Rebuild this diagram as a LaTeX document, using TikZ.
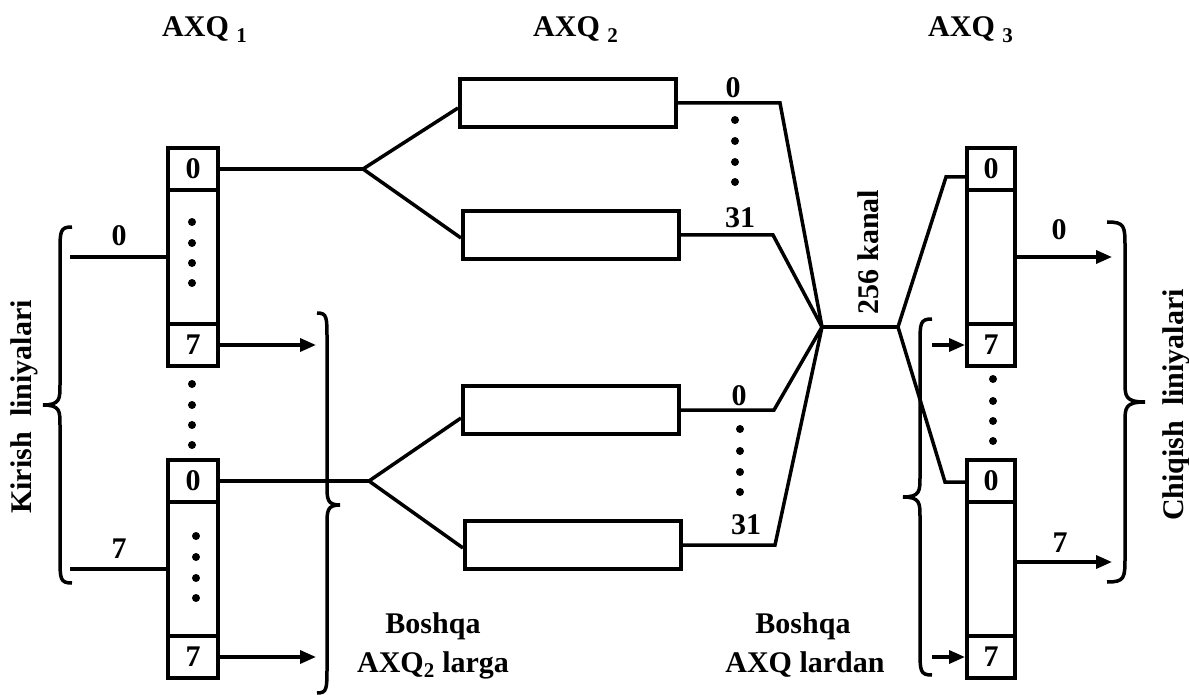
\documentclass[tikz,border=0pt]{standalone}
\usepackage{fontspec}
\setmainfont{Liberation Serif}
\usetikzlibrary{arrows.meta,calc}
\newcommand{\VBrace}[6]{% xend, xvert, xtip, ytop, ymid, ybot
  \draw[bracestyle] (#1,#4) .. controls (#2,#4) and (#2,#4+4) .. (#2,#4+26) -- (#2,#5-20) .. controls (#2,#5-6) and (#2,#5) .. (#3,#5) .. controls (#2,#5) and (#2,#5+6) .. (#2,#5+20) -- (#2,#6-26) .. controls (#2,#6-4) and (#2,#6) .. (#1,#6);}
\begin{document}
\begin{tikzpicture}[x=1pt,y=-1pt,
  every node/.style={font=\fontsize{30}{36}\selectfont\bfseries, inner sep=0pt},
  cell/.style={draw, line width=4pt, minimum width=50pt, minimum height=42pt},
  midcell/.style={draw, line width=4pt, minimum width=50pt, minimum height=134pt},
  rcell/.style={cell, minimum width=48pt},
  rmidcell/.style={midcell, minimum width=48pt},
  mbox/.style={draw, line width=4pt, minimum width=216pt, minimum height=48pt},
  wire/.style={line width=3.5pt},
  arr/.style={line width=3.5pt, -{Triangle[length=16pt,width=13pt]}},
  dotn/.style={circle, fill=black, inner sep=0pt, minimum size=8pt},
  bracestyle/.style={line width=3.5pt},
  txt/.style={font=\fontsize{30}{36}\selectfont\bfseries}
]
\useasboundingbox (0,0) rectangle (1189,695);

% titles
\node[txt, anchor=base west] (t1) at (162,37) {AXQ \textsubscript{1}};
\node[txt, anchor=base west] (t2) at (533,37) {AXQ \textsubscript{2}};
\node[txt, anchor=base west] (t3) at (928,37) {AXQ \textsubscript{3}};

% left column (AXQ1)
\node[cell] (l1c0) at (193,169) {0};
\node[midcell] (l1m) at (193,257) {};
\node[cell] (l1c7) at (193,345) {7};
\node[cell] (l2c0) at (193,481) {0};
\node[midcell] (l2m) at (193,569) {};
\node[cell] (l2c7) at (193,657) {7};
\foreach \y [count=\i] in {222,243,263,283} \node[dotn] (ld1\i) at (192,\y) {};
\foreach \y [count=\i] in {536,557,578,598} \node[dotn] (ld2\i) at (196,\y) {};
\foreach \y [count=\i] in {384,405,425,445} \node[dotn] (ldb\i) at (192,\y) {};

% inputs
\coordinate (in0) at (70,257);
\coordinate (in7) at (70,569);
\draw[wire] (in0) -- (l1m.west);
\draw[wire] (in7) -- (l2m.west);
\node (lin0) at (119,236) {0};
\node (lin7) at (119,549) {7};
\VBrace{72}{60}{43}{227}{405}{583}
\node[rotate=90] (kirish) at (24,407) {Kirish\ \ liniyalari};

% outputs to other AXQ2
\coordinate (ao1) at (316,345);
\coordinate (ao2) at (316,657);
\draw[arr] (l1c7.east) -- (ao1);
\draw[arr] (l2c7.east) -- (ao2);
\VBrace{317}{327}{340}{313}{505}{693}
\node[anchor=base] (bq1) at (433,633) {Boshqa};
\node[anchor=base] (bq2) at (433,672) {AXQ\textsubscript{2} larga};

% middle (AXQ2)
\node[mbox] (M1) at (568,103) {};
\node[mbox] (M2) at (571,235) {};
\node[mbox] (M3) at (571,410) {};
\node[mbox] (M4) at (573,545) {};
\coordinate (b1) at (363,169);
\coordinate (b2) at (369,481);
\draw[wire] (l1c0.east) -- (b1);
\draw[wire] (b1) -- ($(M1.west)+(0,5)$);
\draw[wire] (b1) -- ($(M2.west)+(0,3)$);
\draw[wire] (l2c0.east) -- (b2);
\draw[wire] (b2) -- ($(M3.west)+(0,8)$);
\draw[wire] (b2) -- ($(M4.west)+(0,3)$);

\coordinate (conv) at (822,327);
\coordinate (e1) at (780,103);
\coordinate (e2) at (773,235);
\coordinate (e3) at (774,410);
\coordinate (e4) at (775,545);
\draw[wire] (M1.east) -- (e1) -- (conv);
\draw[wire] (M2.east) -- (e2) -- (conv);
\draw[wire] (M3.east) -- (e3) -- (conv);
\draw[wire] (M4.east) -- (e4) -- (conv);
\node (n0a) at (733,88) {0};
\node (n31a) at (740,218) {31};
\node (n0b) at (739,396) {0};
\node (n31b) at (746,525) {31};
\foreach \y [count=\i] in {120,141,162,182} \node[dotn] (md1\i) at (735,\y) {};
\foreach \y [count=\i] in {429,451,472,492} \node[dotn] (md2\i) at (740,\y) {};

\coordinate (k) at (898,327);
\draw[wire] (conv) -- (k);
\node[rotate=90] (kanal) at (868,252) {256 kanal};

% right column (AXQ3)
\node[rcell] (r1c0) at (991,169) {0};
\node[rmidcell] (r1m) at (991,257) {};
\node[rcell] (r1c7) at (991,345) {7};
\node[rcell] (r2c0) at (991,481) {0};
\node[rmidcell] (r2m) at (991,569) {};
\node[rcell] (r2c7) at (991,657) {7};
\foreach \y [count=\i] in {379,401,421,441} \node[dotn] (rdb\i) at (993,\y) {};

\coordinate (s1) at (946,177);
\coordinate (s2) at (945,482);
\draw[wire] (k) -- (s1) -- (s1 -| r1c0.west);
\draw[wire] (k) -- (s2) -- (s2 -| r2c0.west);

\coordinate (ri1) at (932,345);
\coordinate (ri2) at (932,657);
\draw[arr] (ri1) -- (r1c7.west);
\draw[arr] (ri2) -- (r2c7.west);
\VBrace{932}{920}{903}{319}{497}{675}
\node[anchor=base] (bq3) at (803,633) {Boshqa};
\node[anchor=base] (bq4) at (805,672) {AXQ lardan};

\coordinate (ro1) at (1112,257);
\coordinate (ro2) at (1112,562);
\draw[arr] (r1m.east) -- (ro1);
\draw[arr] (r2m.east |- ro2) -- (ro2);
\node (rout0) at (1059,230) {0};
\node (rout7) at (1060,543) {7};
\VBrace{1107}{1125}{1145}{222}{402}{582}
\node[rotate=90] (chiqish) at (1176,405) {Chiqish\ \ liniyalari};
\end{tikzpicture}
\end{document}
